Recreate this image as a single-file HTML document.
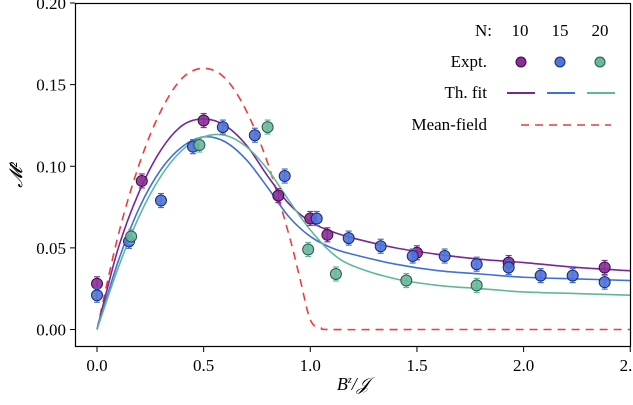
<!DOCTYPE html>
<html><head><meta charset="utf-8"><style>
body{margin:0;background:#fff}
svg{font-family:"Liberation Serif",serif}
</style></head><body>
<svg id="chart" width="633" height="400" viewBox="0 0 633 400">
<g id="curves"></g><g id="points"></g>
<rect x="75.5" y="3.5" width="555" height="343" fill="none" stroke="#000" stroke-width="1.2"/>
<g id="axes"></g>
<text x="22" y="175" font-size="18" font-style="italic" text-anchor="middle" transform="rotate(-90 22 175)">𝓜²</text>
<text x="353" y="390" font-size="18" font-style="italic" text-anchor="middle">B<tspan font-size="10" dy="-7">z</tspan><tspan dy="7">/𝒥</tspan></text>
<g id="legend">
<text x="492" y="36" font-size="17" text-anchor="end">N:</text>
<text x="520" y="36" font-size="17" text-anchor="middle">10</text>
<text x="560" y="36" font-size="17" text-anchor="middle">15</text>
<text x="600" y="36" font-size="17" text-anchor="middle">20</text>
<text x="487" y="67" font-size="17" text-anchor="end">Expt.</text>
<circle cx="521" cy="62" r="5" fill="#8a2c99" stroke="#3a1040"/>
<circle cx="560" cy="62" r="5" fill="#4f72db" stroke="#1c2c60"/>
<circle cx="600" cy="62" r="5" fill="#6ab79e" stroke="#2a5a4a"/>
<text x="487" y="98" font-size="17" text-anchor="end">Th. fit</text>
<line x1="507" y1="93" x2="535" y2="93" stroke="#7a2596" stroke-width="2"/>
<line x1="547" y1="93" x2="575" y2="93" stroke="#3f6fdb" stroke-width="2"/>
<line x1="587" y1="93" x2="615" y2="93" stroke="#5fb89a" stroke-width="2"/>
<text x="487" y="130" font-size="17" text-anchor="end">Mean-field</text>
<line x1="521" y1="125" x2="611" y2="125" stroke="#f03a3a" stroke-width="1.6" stroke-dasharray="8,6"/>
</g>
</svg>
<script>
const xTicks=[0,0.5,1.0,1.5,2.0,2.5];
const yTicks=[0,0.05,0.10,0.15,0.20];
const fitX=[0,0.1,0.2,0.3,0.4,0.5,0.6,0.7,0.8,0.9,1.0,1.1,1.2,1.4,1.6,1.8,2.0,2.25,2.5];
const fit10=[0,0.05,0.085,0.11,0.125,0.129,0.125,0.113,0.094,0.077,0.066,0.060,0.056,0.050,0.046,0.043,0.041,0.038,0.036];
const fit15=[0,0.042,0.075,0.098,0.112,0.118,0.115,0.104,0.087,0.069,0.057,0.050,0.046,0.040,0.036,0.034,0.032,0.031,0.030];
const fit20=[0,0.038,0.070,0.094,0.110,0.118,0.119,0.112,0.098,0.079,0.061,0.047,0.039,0.031,0.027,0.025,0.023,0.022,0.021];
const mfX=[0,0.1,0.2,0.3,0.4,0.5,0.6,0.7,0.8,0.9,0.95,1.0,1.05,1.1,1.5,2.0,2.5];
const mfY=[0,0.058,0.102,0.134,0.154,0.160,0.154,0.134,0.102,0.058,0.032,0.006,0.001,0,0,0,0];
const e10x=[0,0.21,0.5,0.85,1.0,1.08,1.5,1.93,2.38];
const e10y=[0.028,0.091,0.128,0.082,0.068,0.058,0.047,0.041,0.038];
const e15x=[0,0.15,0.30,0.45,0.59,0.74,0.88,1.03,1.18,1.33,1.48,1.63,1.78,1.93,2.08,2.23,2.38];
const e15y=[0.021,0.054,0.079,0.112,0.124,0.119,0.094,0.068,0.056,0.051,0.045,0.045,0.040,0.038,0.033,0.033,0.029];
const e20x=[0.16,0.48,0.80,0.99,1.12,1.45,1.78];
const e20y=[0.057,0.113,0.124,0.049,0.034,0.030,0.027];
const NS="http://www.w3.org/2000/svg";
const sx=v=>97+v*213.3, sy=v=>329.5-v*1632.5;
function mk(t,a,p){const e=document.createElementNS(NS,t);for(const k in a)e.setAttribute(k,a[k]);p.appendChild(e);return e;}
const axes=document.getElementById('axes');
xTicks.forEach(t=>{const x=sx(t);
 const l=mk('line',{x1:x,x2:x,y1:347,y2:352,stroke:'#000'},axes);
 
 
 const tx=mk('text',{x:x,y:371,'font-size':17,'text-anchor':'middle'},axes);tx.textContent=t.toFixed(1);
 
 });
yTicks.forEach(t=>{const y=sy(t);
 const l=mk('line',{x1:70,x2:75,y1:y,y2:y,stroke:'#000'},axes);
 
 
 const tx=mk('text',{x:66,y:y+6,'font-size':17,'text-anchor':'end'},axes);tx.textContent=t.toFixed(2);
 
 });
function smooth(xs,ys){const P=xs.map((x,i)=>[sx(x),sy(ys[i])]);let d='M'+P[0][0]+','+P[0][1];
 for(let i=0;i<P.length-1;i++){const p0=P[Math.max(0,i-1)],p1=P[i],p2=P[i+1],p3=P[Math.min(P.length-1,i+2)];
 d+=` C${p1[0]+(p2[0]-p0[0])/6},${p1[1]+(p2[1]-p0[1])/6} ${p2[0]-(p3[0]-p1[0])/6},${p2[1]-(p3[1]-p1[1])/6} ${p2[0]},${p2[1]}`;}return d;}
const cg=document.getElementById('curves');
const mf=mk('path',{d:smooth(mfX,mfY),fill:'none',stroke:'#f03a3a','stroke-width':1.6,'stroke-dasharray':'8,6'},cg);


[[fit10,'#7a2596','fit-n10'],[fit15,'#3f6fdb','fit-n15'],[fit20,'#5fb89a','fit-n20']].forEach(([ys,c,n])=>{
 const p=mk('path',{d:smooth(fitX,ys),fill:'none',stroke:c,'stroke-width':1.6},cg);
 
 });
const pg=document.getElementById('points');
[[e10x,e10y,'#8a2c99','#3a1040','#8a2c99'],[e15x,e15y,'#4f72db','#1c2c60','#3f6fdb'],[e20x,e20y,'#6ab79e','#2a5a4a','#5fb89a']].forEach(([xs,ys,f,s,ec],k)=>{
 xs.forEach((x,i)=>{const cx=sx(x),cy=sy(ys[i]);
  mk('line',{x1:cx,x2:cx,y1:cy-7,y2:cy+7,stroke:ec,'stroke-width':1.2},pg);
  mk('line',{x1:cx-3,x2:cx+3,y1:cy-7,y2:cy-7,stroke:ec,'stroke-width':1.2},pg);
  mk('line',{x1:cx-3,x2:cx+3,y1:cy+7,y2:cy+7,stroke:ec,'stroke-width':1.2},pg);
  const c=mk('circle',{cx:cx,cy:cy,r:5.5,fill:f,stroke:s,'stroke-width':1,'fill-opacity':0.9},pg);
  
  });});
</script>
</body></html>
